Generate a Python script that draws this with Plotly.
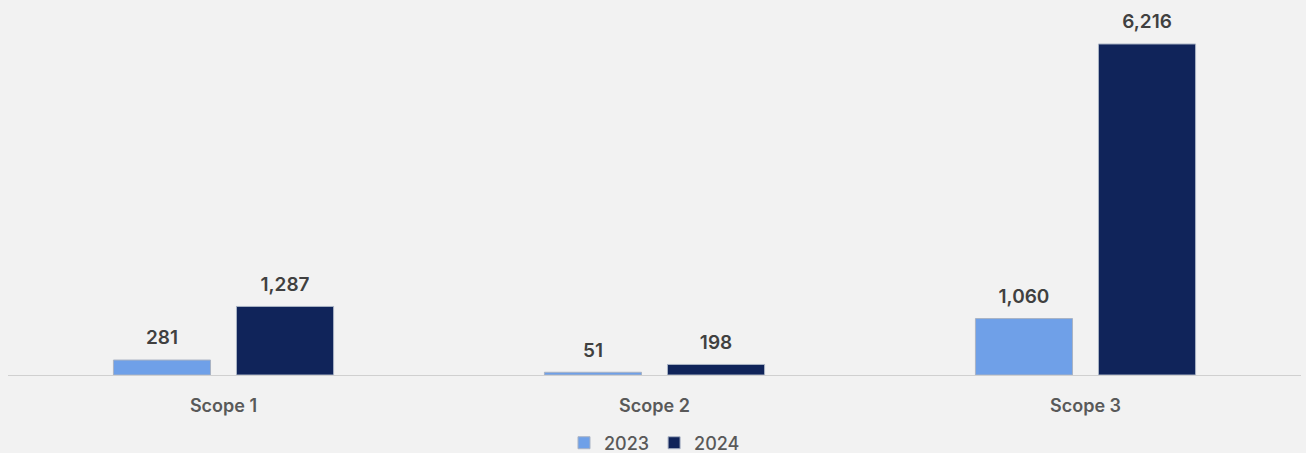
import plotly.graph_objects as go

categories = ["Scope 1", "Scope 2", "Scope 3"]
values_2023 = [281, 51, 1060]
values_2024 = [1287, 198, 6216]
series_names = ["2023", "2024"]

colors = ["#6fa0e8", "#10245a"]

fig = go.Figure()
for name, vals, col in zip(series_names, [values_2023, values_2024], colors):
    fig.add_trace(go.Bar(
        name=name, x=categories, y=vals,
        marker=dict(color=col, line=dict(color="#a9b3c4", width=1)),
        hoverinfo="skip",
    ))
for name, vals in zip(series_names, [values_2023, values_2024]):
    fig.add_trace(go.Scatter(
        x=categories, y=vals, mode="markers+text", showlegend=False,
        text=[f"{v:,}" for v in vals], textposition="top center",
        marker=dict(size=16, color="rgba(0,0,0,0)"),
        cliponaxis=False, hoverinfo="skip",
        textfont=dict(family="Inter", size=19, color="#404040", weight=600),
    ))

fig.update_layout(
    width=1306, height=453,
    paper_bgcolor="#f2f2f2", plot_bgcolor="#f2f2f2",
    margin=dict(l=8, r=5, t=0, b=78, autoexpand=False),
    barmode="group", bargap=0.429, bargroupgap=0.211,
    scattermode="group", scattergap=0.429,
    showlegend=True,
    legend=dict(orientation="h", x=0.5, xanchor="center", yref="container",
                y=0.022, yanchor="middle",
                font=dict(family="Inter", size=18, color="#595959", weight=500),
                itemwidth=30, traceorder="normal"),
    xaxis=dict(showline=True, linecolor="#d0d0d0", linewidth=1, ticks="",
               ticklabelstandoff=14, automargin=False,
               tickfont=dict(family="Inter", size=18, color="#595959", weight=600)),
    yaxis=dict(visible=False, range=[0, 7042], showgrid=False, zeroline=False),
    font=dict(family="Inter"),
)

fig.write_html("out.html", config={"displayModeBar": False},
               post_script="document.body.style.margin='0';")
